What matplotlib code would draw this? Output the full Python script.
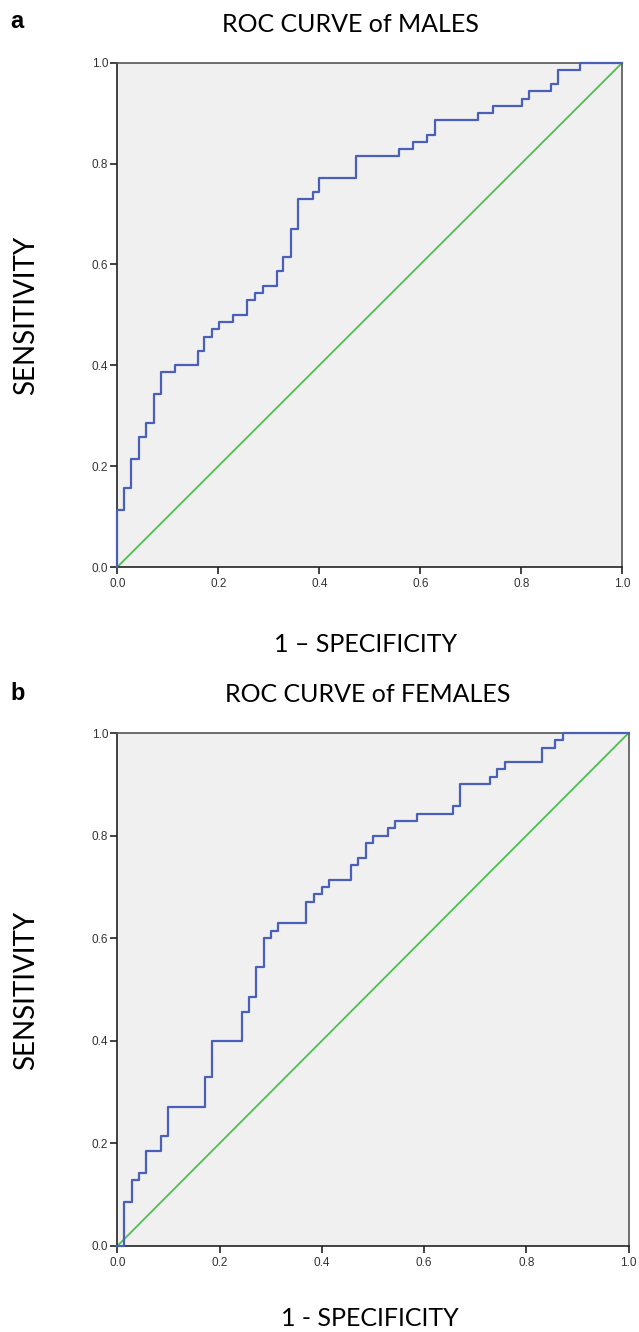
import matplotlib
matplotlib.use('Agg')
import matplotlib.pyplot as plt

# ROC points (1-specificity, sensitivity), step corners
fpr_males = [0, 0, 0.014, 0.028, 0.043, 0.057, 0.072, 0.086, 0.115, 0.159, 0.172, 0.187,
             0.201, 0.230, 0.257, 0.273, 0.288, 0.316, 0.329, 0.344, 0.358, 0.387, 0.400,
             0.472, 0.558, 0.586, 0.613, 0.629, 0.715, 0.744, 0.801, 0.815, 0.859, 0.873,
             0.916, 1.0]
tpr_males = [0, 0.114, 0.157, 0.214, 0.257, 0.286, 0.343, 0.386, 0.400, 0.429, 0.457, 0.471,
             0.486, 0.500, 0.529, 0.543, 0.557, 0.586, 0.614, 0.671, 0.729, 0.743, 0.771,
             0.814, 0.829, 0.843, 0.857, 0.886, 0.900, 0.914, 0.929, 0.943, 0.957, 0.986,
             1.0, 1.0]

fpr_females = [0, 0.013, 0.028, 0.042, 0.057, 0.086, 0.100, 0.172, 0.185, 0.243, 0.257, 0.271,
               0.286, 0.300, 0.314, 0.370, 0.385, 0.400, 0.415, 0.457, 0.471, 0.486, 0.500,
               0.529, 0.543, 0.586, 0.657, 0.670, 0.729, 0.743, 0.758, 0.830, 0.857, 0.872, 1.0]
tpr_females = [0, 0.086, 0.129, 0.143, 0.186, 0.214, 0.271, 0.329, 0.400, 0.457, 0.486, 0.543,
               0.600, 0.614, 0.629, 0.671, 0.686, 0.700, 0.714, 0.743, 0.757, 0.786, 0.800,
               0.814, 0.829, 0.843, 0.857, 0.900, 0.914, 0.929, 0.943, 0.971, 0.986, 1.0, 1.0]

ticks = [0.0, 0.2, 0.4, 0.6, 0.8, 1.0]
tick_labels = ['0.0', '0.2', '0.4', '0.6', '0.8', '1.0']

W, H = 639, 1332
fig = plt.figure(figsize=(W / 100, H / 100), dpi=100)

label_font = 'Lato'
blue = '#4a5fba'
green = '#4cc04f'


def roc_panel(rect, fpr, tpr):
    ax = fig.add_axes(rect)
    ax.set_facecolor('#f0f0f0')
    ax.plot([0, 1], [0, 1], color=green, lw=1.3, zorder=2)
    ax.step(fpr, tpr, where='post', color=blue, lw=1.6, zorder=3, clip_on=False)
    ax.set_xlim(0, 1)
    ax.set_ylim(0, 1)
    ax.set_xticks(ticks)
    ax.set_yticks(ticks)
    ax.set_xticklabels(tick_labels, family='Liberation Sans', fontsize=8.5, color='#333333')
    ax.set_yticklabels(tick_labels, family='Liberation Sans', fontsize=8.5, color='#333333')
    ax.tick_params(direction='out', length=5, width=1.2, color='#222222', pad=1.5)
    ax.tick_params(axis='x', pad=3)
    for side in ['left', 'bottom']:
        ax.spines[side].set_color('#222222')
        ax.spines[side].set_linewidth(1.2)
    for side in ['top', 'right']:
        ax.spines[side].set_color('#555555')
        ax.spines[side].set_linewidth(1.2)
    return ax


# top panel: males
ax1 = roc_panel([117.3 / W, 1 - 567 / H, 505 / W, 504.3 / H], fpr_males, tpr_males)
# bottom panel: females
ax2 = roc_panel([117.3 / W, 1 - 1246 / H, 511.3 / W, 513 / H], fpr_females, tpr_females)

def ftext(x, y, s, **kw):
    fig.text(x / W, 1 - y / H, s, **kw)

ftext(10, 22, 'a', family='Liberation Sans', weight='bold', fontsize=17, va='center', ha='left')
ftext(10, 694, 'b', family='Liberation Sans', weight='bold', fontsize=17, va='center', ha='left')

ftext(350, 24, 'ROC CURVE of MALES', family=label_font, fontsize=18, ha='center', va='center')
ftext(368, 694, 'ROC CURVE of FEMALES', family=label_font, fontsize=18, ha='center', va='center')

ftext(366, 644, '1 \u2013 SPECIFICITY', family=label_font, fontsize=18, ha='center', va='center')
ftext(370, 1318, '1 - SPECIFICITY', family=label_font, fontsize=18, ha='center', va='center')

ftext(26, 315, 'SENSITIVITY', family=label_font, fontsize=20, ha='center', va='center', rotation=90)
ftext(26, 990, 'SENSITIVITY', family=label_font, fontsize=20, ha='center', va='center', rotation=90)

plt.savefig('out.png', dpi=100)
plt.close()
